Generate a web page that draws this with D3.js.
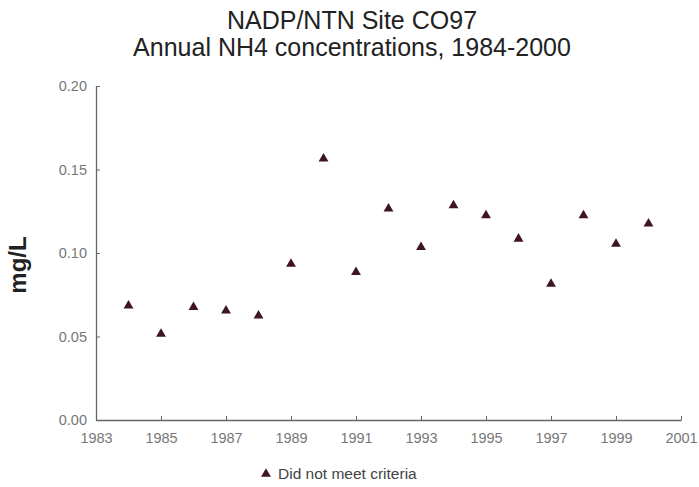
<!DOCTYPE html>
<html><head><meta charset="utf-8">
<script src="https://d3js.org/d3.v7.min.js"></script>
<style>body{margin:0;background:#fff}svg{display:block}</style>
</head><body>
<svg id="c" width="699" height="487"></svg>
<script>
const years = [1984,1985,1986,1987,1988,1989,1990,1991,1992,1993,1994,1995,1996,1997,1998,1999,2000];
const nh4 = [0.0685,0.0515,0.0675,0.0655,0.0625,0.0935,0.1565,0.0885,0.1265,0.1035,0.1285,0.1225,0.1085,0.0815,0.1225,0.1055,0.1175];
const xTicks = [1983,1985,1987,1989,1991,1993,1995,1997,1999,2001];
const yTicks = [0,0.05,0.10,0.15,0.20];
const titleLines = ["NADP/NTN Site CO97","Annual NH4 concentrations, 1984-2000"];
const yLabel = "mg/L";
const legendLabel = "Did not meet criteria";

const svg = d3.select("#c");
const x = d3.scaleLinear().domain([1983,2001]).range([96,681]);
const y = d3.scaleLinear().domain([0,0.20]).range([420,86]);
const font = "Arial, 'Liberation Sans', sans-serif";

svg.selectAll("text.title").data(titleLines).enter().append("text")
  .attr("x",352).attr("y",(d,i)=>29+i*27).attr("text-anchor","middle")
  .attr("font-family",font).attr("font-size",25).attr("fill","#222").text(d=>d);

const xa = svg.append("g").attr("transform","translate(0,420)")
  .call(d3.axisBottom(x).tickValues(xTicks).tickFormat(d3.format("d")).tickSizeInner(-4).tickSizeOuter(0).tickPadding(13));
const ya = svg.append("g").attr("transform","translate(96,0)")
  .call(d3.axisLeft(y).tickValues(yTicks).tickFormat(d3.format(".2f")).tickSizeInner(-4).tickSizeOuter(0).tickPadding(9));
[xa,ya].forEach(a=>{
  a.select(".domain").attr("stroke","#666").attr("stroke-width",1.3);
  a.selectAll(".tick line").attr("stroke","#666");
  a.selectAll(".tick text").attr("font-family",font).attr("font-size",14.5).attr("fill","#777");
});

svg.append("text").attr("transform","translate(26,265) rotate(-90)")
  .attr("text-anchor","middle").attr("font-family",font).attr("font-size",24).attr("font-weight","bold").attr("fill","#222").text(yLabel);

const tri = d3.symbol().type(d3.symbolTriangle).size(42);
svg.append("g").selectAll("path").data(years).enter().append("path")
  .attr("d",tri).attr("fill","#3f1525")
  .attr("transform",(d,i)=>`translate(${x(d)},${y(nh4[i])})`);

svg.append("path").attr("d",tri).attr("fill","#3f1525").attr("transform","translate(266,474)");
svg.append("text").attr("x",278).attr("y",479).attr("font-family",font).attr("font-size",15.5).attr("fill","#444").text(legendLabel);
</script>
</body></html>
